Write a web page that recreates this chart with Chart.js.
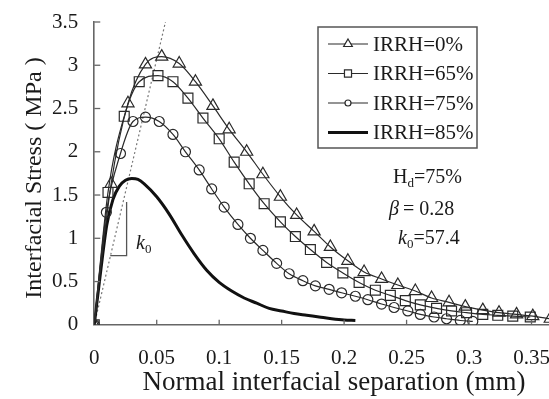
<!DOCTYPE html>
<html><head><meta charset="utf-8">
<script src="https://cdn.jsdelivr.net/npm/chart.js@4/dist/chart.umd.min.js"></script>
<style>html,body{margin:0;padding:0;background:#fff;} #wrap{width:549px;height:399px;}</style>
</head><body><div id="wrap"><canvas id="c" width="549" height="399"></canvas></div>
<script>
const FONT = '"Liberation Serif","Times New Roman",serif';
const seriesNames = ['IRRH=0%', 'IRRH=65%', 'IRRH=75%', 'IRRH=85%'];

const xTri = [0, 0.0135, 0.027, 0.041, 0.054, 0.068, 0.081, 0.095, 0.108, 0.122, 0.135, 0.149, 0.162, 0.176, 0.189, 0.203, 0.216, 0.230, 0.243, 0.257, 0.270, 0.284, 0.297, 0.311, 0.324, 0.338, 0.351, 0.365];
const yTri = [0, 1.63, 2.56, 3.01, 3.10, 3.02, 2.81, 2.53, 2.26, 2.00, 1.74, 1.48, 1.27, 1.08, 0.90, 0.74, 0.61, 0.53, 0.46, 0.39, 0.31, 0.26, 0.21, 0.17, 0.14, 0.12, 0.10, 0.07];

const xSq = [0, 0.011, 0.024, 0.036, 0.051, 0.063, 0.075, 0.087, 0.100, 0.112, 0.124, 0.136, 0.149, 0.161, 0.173, 0.186, 0.199, 0.212, 0.225, 0.237, 0.249, 0.261, 0.274, 0.286, 0.298, 0.311, 0.323, 0.335, 0.349];
const ySq = [0, 1.53, 2.41, 2.81, 2.88, 2.81, 2.62, 2.39, 2.15, 1.88, 1.63, 1.40, 1.19, 1.02, 0.87, 0.72, 0.60, 0.49, 0.40, 0.34, 0.28, 0.23, 0.19, 0.16, 0.14, 0.12, 0.11, 0.10, 0.09];

const xCir = [0, 0.0097, 0.021, 0.031, 0.041, 0.052, 0.063, 0.073, 0.084, 0.094, 0.104, 0.115, 0.125, 0.135, 0.146, 0.156, 0.167, 0.177, 0.188, 0.198, 0.209, 0.219, 0.230, 0.240, 0.251, 0.261, 0.272, 0.282, 0.293, 0.303];
const yCir = [0, 1.30, 1.98, 2.35, 2.40, 2.35, 2.20, 2.00, 1.79, 1.57, 1.36, 1.16, 1.00, 0.86, 0.71, 0.59, 0.51, 0.45, 0.41, 0.37, 0.33, 0.29, 0.24, 0.20, 0.16, 0.12, 0.09, 0.07, 0.05, 0.04];

const xBold = [0, 0.005, 0.010, 0.015, 0.020, 0.025, 0.030, 0.035, 0.040, 0.050, 0.060, 0.070, 0.080, 0.090, 0.100, 0.110, 0.120, 0.130, 0.140, 0.150, 0.160, 0.170, 0.180, 0.190, 0.200, 0.209];
const yBold = [0, 0.60, 1.15, 1.45, 1.60, 1.67, 1.69, 1.68, 1.63, 1.48, 1.28, 1.04, 0.82, 0.63, 0.49, 0.39, 0.31, 0.25, 0.19, 0.16, 0.13, 0.11, 0.09, 0.07, 0.055, 0.05];

const xK0Line = [0, 0.057];
const yK0Line = [0, 3.5];
const xSlope = [0.0128, 0.0259, 0.0259];
const ySlope = [0.80, 0.80, 1.42];

const xTicks = [0, 0.05, 0.1, 0.15, 0.2, 0.25, 0.3, 0.35];
const yTicks = [0, 0.5, 1, 1.5, 2, 2.5, 3, 3.5];
const xTitle = 'Normal interfacial separation (mm)';
const yTitle = 'Interfacial Stress ( MPa )';

const pts = (xs, ys) => xs.map((v, i) => ({x: v, y: ys[i]}));
const INK = '#2a2a2a';

const datasets = [
  {label: seriesNames[0], data: pts(xTri, yTri), borderColor: INK, borderWidth: 1.2,
   pointStyle: 'triangle', pointRadius: 7, pointBorderColor: INK, pointBorderWidth: 1.2,
   pointBackgroundColor: 'rgba(0,0,0,0)', cubicInterpolationMode: 'monotone', fill: false},
  {label: seriesNames[1], data: pts(xSq, ySq), borderColor: INK, borderWidth: 1.2,
   pointStyle: 'rect', pointRadius: 7, pointBorderColor: INK, pointBorderWidth: 1.2,
   pointBackgroundColor: 'rgba(0,0,0,0)', cubicInterpolationMode: 'monotone', fill: false},
  {label: seriesNames[2], data: pts(xCir, yCir), borderColor: INK, borderWidth: 1.2,
   pointStyle: 'circle', pointRadius: 5, pointBorderColor: INK, pointBorderWidth: 1.2,
   pointBackgroundColor: 'rgba(0,0,0,0)', cubicInterpolationMode: 'monotone', fill: false},
  {label: seriesNames[3], data: pts(xBold, yBold), borderColor: '#111', borderWidth: 3,
   pointRadius: 0, cubicInterpolationMode: 'monotone', fill: false},
  {label: 'k0', data: pts(xK0Line, yK0Line), borderColor: '#777', borderWidth: 1.2,
   borderDash: [2, 2.5], pointRadius: 0, fill: false, tension: 0},
  {label: 'slope', data: pts(xSlope, ySlope), borderColor: '#555', borderWidth: 1.3,
   pointRadius: 0, fill: false, tension: 0}
];

function drawRuns(ctx, x, y, runs) {
  runs.forEach(r => {
    ctx.font = r.font;
    ctx.fillText(r.t, x, y + (r.dy || 0));
    x += ctx.measureText(r.t).width + (r.gap || 0);
  });
}

const decor = {
  id: 'decor',
  afterDatasetsDraw(chart) {
    const {ctx, chartArea: a, scales: {x, y}} = chart;
    ctx.save();
    // inward tick marks
    ctx.strokeStyle = '#666'; ctx.lineWidth = 1.3;
    xTicks.forEach(v => { if (v === 0) return; const p = x.getPixelForValue(v);
      ctx.beginPath(); ctx.moveTo(p, a.bottom); ctx.lineTo(p, a.bottom - 5); ctx.stroke(); });
    yTicks.forEach(v => { if (v === 0) return; const p = y.getPixelForValue(v);
      ctx.beginPath(); ctx.moveTo(a.left, p); ctx.lineTo(a.left + 6, p); ctx.stroke(); });

    // axis titles
    ctx.fillStyle = '#1a1a1a';
    ctx.textAlign = 'center'; ctx.textBaseline = 'middle';
    ctx.font = '27px ' + FONT;
    ctx.fillText(xTitle, 334, 383);
    ctx.save();
    ctx.translate(35, 178); ctx.rotate(-Math.PI / 2);
    ctx.font = '24px ' + FONT;
    ctx.fillText(yTitle, 0, 0);
    ctx.restore();

    // legend
    const L = {x: 318, y: 27, w: 159, h: 121};
    ctx.fillStyle = '#fff'; ctx.fillRect(L.x, L.y, L.w, L.h);
    ctx.strokeStyle = '#555'; ctx.lineWidth = 1.5; ctx.strokeRect(L.x, L.y, L.w, L.h);
    const rows = [44, 73.5, 103, 132.5];
    ctx.textBaseline = 'middle'; ctx.textAlign = 'left';
    rows.forEach((ry, i) => {
      const ds = chart.data.datasets[i];
      ctx.strokeStyle = ds.borderColor; ctx.lineWidth = ds.borderWidth;
      ctx.beginPath(); ctx.moveTo(328, ry); ctx.lineTo(368, ry); ctx.stroke();
      if (ds.pointRadius > 0) {
        ctx.fillStyle = '#fff';
        ctx.lineWidth = ds.pointBorderWidth; ctx.strokeStyle = ds.pointBorderColor;
        Chart.helpers.drawPoint(ctx, {pointStyle: ds.pointStyle, radius: ds.pointRadius - 2,
          borderWidth: ds.pointBorderWidth, rotation: 0}, 348, ry);
      }
      ctx.fillStyle = '#1a1a1a'; ctx.font = '21px ' + FONT;
      ctx.fillText(seriesNames[i], 373, ry + 1);
    });

    // annotations
    ctx.fillStyle = '#1a1a1a'; ctx.textBaseline = 'alphabetic';
    drawRuns(ctx, 393, 183, [
      {t: 'H', font: '20px ' + FONT},
      {t: 'd', font: '13px ' + FONT, dy: 4},
      {t: '=75%', font: '20px ' + FONT}
    ]);
    drawRuns(ctx, 389, 215, [
      {t: 'β', font: 'italic 20px ' + FONT, gap: 4},
      {t: '= 0.28', font: '20px ' + FONT}
    ]);
    drawRuns(ctx, 398, 244, [
      {t: 'k', font: 'italic 20px ' + FONT},
      {t: '0', font: '13px ' + FONT, dy: 4},
      {t: '=57.4', font: '20px ' + FONT}
    ]);
    drawRuns(ctx, 136, 249, [
      {t: 'k', font: 'italic 20px ' + FONT},
      {t: '0', font: '13px ' + FONT, dy: 4}
    ]);
    ctx.restore();
  }
};

new Chart(document.getElementById('c'), {
  type: 'line',
  data: {datasets},
  options: {
    responsive: false, animation: false, devicePixelRatio: 1,
    layout: {autoPadding: false, padding: {left: 36, right: 0, top: 22, bottom: 7}},
    plugins: {legend: {display: false}, tooltip: {enabled: false}},
    scales: {
      x: {type: 'linear', min: 0, max: 0.364,
        afterBuildTicks: s => { s.ticks = xTicks.map(v => ({value: v})); },
        afterFit: s => { s.paddingRight = 0; s.paddingLeft = 0; },
        grid: {display: false, drawTicks: false},
        border: {display: true, color: '#666', width: 1.6},
        ticks: {color: '#1a1a1a', font: {family: FONT, size: 21}, padding: 21, maxRotation: 0,
          callback: v => String(+v.toFixed(2))},
        title: {display: false}
      },
      y: {type: 'linear', min: 0, max: 3.5,
        afterBuildTicks: s => { s.ticks = yTicks.map(v => ({value: v})); },
        afterFit: s => { s.paddingTop = 0; s.paddingBottom = 0; },
        grid: {display: false, drawTicks: false},
        border: {display: true, color: '#666', width: 1.6},
        ticks: {color: '#1a1a1a', font: {family: FONT, size: 21}, padding: 16,
          callback: v => String(v)},
        title: {display: false}
      }
    }
  },
  plugins: [decor]
});
</script></body></html>
